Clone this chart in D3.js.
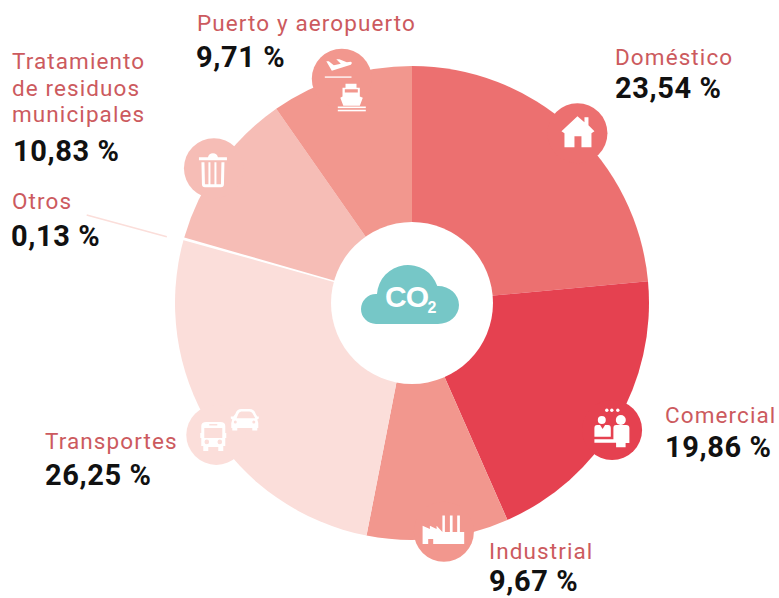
<!DOCTYPE html>
<html>
<head>
<meta charset="utf-8">
<script src="https://cdn.jsdelivr.net/npm/d3@7"></script>
<style>
    html, body { margin: 0; padding: 0; background: #fff; }
    svg { display: block; }
    text { font-family: Roboto, sans-serif; }
    .name { font-size: 22.5px; fill: #cc5a5e; letter-spacing: 1.1px; }
    .value { font-size: 29px; font-weight: 700; fill: #111; letter-spacing: 0.6px; }
</style>
</head>
<body>
<div id="chart"></div>
<script>
// Data, clockwise from the top
const categories = ['Doméstico', 'Comercial', 'Industrial', 'Transportes', 'Otros', 'Tratamiento de residuos municipales', 'Puerto y aeropuerto']
const shares = [23.54, 19.86, 9.67, 26.25, 0.13, 10.83, 9.71]
const valueLabels = ['23,54 %', '19,86 %', '9,67 %', '26,25 %', '0,13 %', '10,83 %', '9,71 %']

// Styling and layout
const colors = ['#ec7070', '#e54150', '#f2978e', '#fbdeda', '#ffffff', '#f6bdb6', '#f2978e']
const nameLines = [['Doméstico'], ['Comercial'], ['Industrial'], ['Transportes'], ['Otros'], ['Tratamiento', 'de residuos', 'municipales'], ['Puerto y aeropuerto']]
const nameX = [615, 665, 489, 45, 12, 12, 197]
const nameY = [65, 423, 559, 449, 209, 69, 31]
const valueX = [615, 665, 489, 45, 11, 13, 196]
const valueY = [98, 457, 591, 485, 246, 161, 67]
const bubbleShift = [1.9, 1.9, -1.6, -2.3, 0, -1.3, 0.1] // degrees from the slice middle
const bubbleDist = [237, 237, 231, 236, 0, 239.6, 235]

const width = 779, height = 598
const cx = 412, cy = 303, outerR = 237, innerR = 81, bubbleR = 30

const svg = d3.select('#chart').append('svg')
    .attr('width', width)
    .attr('height', height)

const g = svg.append('g').attr('transform', `translate(${cx}, ${cy})`)

const pie = d3.pie().sort(null).value(d => d)
const arcs = pie(shares)
const arc = d3.arc().innerRadius(0).outerRadius(outerR)

g.selectAll('.slice')
    .data(arcs)
    .join('path')
    .attr('class', 'slice')
    .attr('d', arc)
    .attr('fill', (d, i) => colors[i])
    .attr('stroke', (d, i) => i === 4 ? '#fff' : 'none')
    .attr('stroke-width', 1.6)

// Bubble that sits on the rim of each slice (Otros has none)
const bubblePos = (d, i) => {
    const a = (d.startAngle + d.endAngle) / 2 + bubbleShift[i] * Math.PI / 180
    return [Math.sin(a) * bubbleDist[i], -Math.cos(a) * bubbleDist[i]]
}

g.selectAll('.bubble')
    .data(arcs.filter((d, i) => bubbleDist[i] > 0))
    .join('circle')
    .attr('class', 'bubble')
    .attr('r', bubbleR)
    .attr('cx', d => bubblePos(d, d.index)[0])
    .attr('cy', d => bubblePos(d, d.index)[1])
    .attr('fill', d => colors[d.index])

// Hole
g.append('circle').attr('r', innerR).attr('fill', '#fff')

// Leader line for Otros
const otros = arcs[4]
const otrosAngle = (otros.startAngle + otros.endAngle) / 2 - 0.012
const leader = d3.scaleLinear().domain([0, 1]).range([254, 337])
g.append('line')
    .attr('x1', Math.sin(otrosAngle) * leader(0))
    .attr('y1', -Math.cos(otrosAngle) * leader(0))
    .attr('x2', Math.sin(otrosAngle) * leader(1))
    .attr('y2', -Math.cos(otrosAngle) * leader(1))
    .attr('stroke', '#fbdeda')
    .attr('stroke-width', 1.5)

// Cloud in the middle
const cloud = g.append('g')
cloud.append('path')
    .attr('fill', '#76c7c7')
    .attr('d', 'M-36,21 A15,15 0 0 1 -36,-9 L-35,-9 A31,31 0 0 1 25.3,-17 L26,-17 A21,19 0 0 1 26,21 Z')
cloud.append('text')
    .attr('x', -27)
    .attr('y', 3.5)
    .attr('fill', '#fff')
    .attr('font-size', 30)
    .attr('font-weight', 700)
    .attr('letter-spacing', -1)
    .style('font-family', '"Liberation Sans", sans-serif')
    .text('CO')
cloud.append('text')
    .attr('x', 15.5)
    .attr('y', 10)
    .attr('fill', '#fff')
    .attr('font-size', 16)
    .attr('font-weight', 700)
    .style('font-family', '"Liberation Sans", sans-serif')
    .text('2')

// White icons, drawn around each bubble's centre
const icons = [
    // house
    t => {
        t.append('path').attr('d', 'M0,-17 L7,-11 L7,-16 L11,-16 L11,-8 L17,-2 L14,0 L14,14 L4,14 L4,3 L-3,3 L-3,14 L-13,14 L-13,0 L-16,-2 Z')
    },
    // people at a desk
    t => {
        t.append('circle').attr('cx', -10.3).attr('cy', -10).attr('r', 4)
        t.append('circle').attr('cx', 8.7).attr('cy', -10).attr('r', 5)
        ;[-5.3, -0.3, 5.7].forEach(x => t.append('circle').attr('cx', x).attr('cy', -19.7).attr('r', 1.7))
        t.append('path').attr('d', 'M-17.7,-2 Q-17.7,-5 -15,-5 L-12,-5 L-9.5,-1 L-7,-5 L-4,-5 Q-1.3,-5 -1.3,-2 L-1.3,6.7 L-17.7,6.7 Z')
        t.append('path').attr('d', 'M1.3,-2 Q1.3,-5 4,-5 L14,-5 Q17.3,-5 17.3,-2 L17.3,13 L13.5,13 L13.5,17.3 L4,17.3 L4,12.7 L-17.7,12.7 L-17.7,9.3 L1.3,9.3 Z')
    },
    // factory
    t => {
        t.append('path').attr('d', 'M-21.3,12.3 L-21.3,-6 L-14,-2.7 L-14,-6 L-7.3,-2.7 L-7.3,-6 L-1.5,0.3 L-1.5,-16.3 L1,-16.3 L1,0.3 L6,0.3 L6,-16.3 L8.7,-16.3 L8.7,0.3 L13.3,0.3 L13.3,-16.3 L16,-16.3 L16,0.3 L20.3,0.3 L20.3,12.3 L-10.7,12.3 L-10.7,7.3 L-15.7,7.3 L-15.7,12.3 Z')
    },
    // bus and car
    t => {
        t.append('path').attr('fill-rule', 'evenodd').attr('d', 'M-15,-9 Q-15,-13 -10,-13 L4,-13 Q9,-13 9,-9 L9,-2 L10,-2 L10,3 L9,3 L9,11 L7,11 L7,16 L2,16 L2,12 L-8,12 L-8,16 L-13,16 L-13,11 L-15,11 L-15,3 L-16,3 L-16,-2 L-15,-2 Z M-12,-7 L-12,3 L6,3 L6,-7 Z M-7,-11 L-7,-9.5 L1,-9.5 L1,-11 Z M-11.8,7 a2.3,2.3 0 1 0 4.6,0 a2.3,2.3 0 1 0 -4.6,0 Z M1.2,7 a2.3,2.3 0 1 0 4.6,0 a2.3,2.3 0 1 0 -4.6,0 Z')
        t.append('path').attr('fill-rule', 'evenodd').attr('d', 'M19,-21 Q20.5,-26 25,-26 L33,-26 Q38,-26 39.5,-21 L41,-18.5 L42.5,-18.5 L42.5,-16.5 L41,-15.5 L42,-12 L42,-7 L41,-7 L41,-4.5 L36,-4.5 L36,-7 L21,-7 L21,-4.5 L16,-4.5 L16,-7 L15,-7 L15,-12 L16,-15.5 L14.5,-16.5 L14.5,-18.5 L17,-18.5 Z M22,-21 L20.3,-16.7 L39,-16.7 L36,-22 Q35,-23.5 33,-23.5 L25,-23.5 Q23,-23.5 22,-21 Z M17.5,-13 a1.5,1.5 0 1 0 3,0 a1.5,1.5 0 1 0 -3,0 Z M36,-13 a1.5,1.5 0 1 0 3,0 a1.5,1.5 0 1 0 -3,0 Z')
    },
    // bin
    t => {
        t.append('path').attr('d', 'M-15,-11 L-6,-11 Q-5,-15 -1,-15 Q3,-15 4,-11 L13,-11 L13,-8 L-15,-8 Z')
        t.append('path').attr('fill-rule', 'evenodd').attr('d', 'M-12.5,-6 L10.5,-6 L10,16 Q10,19 7,19 L-9,19 Q-12,19 -12,16 Z M-9.5,-6 L-9,16 L-5.5,16 L-5.5,-6 Z M-3.5,-6 L-3.5,16 L0.5,16 L0.5,-6 Z M2.5,-6 L2.5,16 L7,16 L7.5,-6 Z')
    },
    // plane and ship
    t => {
        t.append('path').attr('d', 'M-15.5,-17.5 L-13,-17.5 L-8,-13.5 L-1,-15 L-5.5,-19.5 L-2.5,-19.5 L5,-16.5 L9,-17 Q11,-16 9,-14 L-10,-8 Z')
        t.append('rect').attr('x', -17).attr('y', -2.3).attr('width', 26.7).attr('height', 1.3)
        t.append('path').attr('fill-rule', 'evenodd').attr('d', 'M3.7,5 L14.7,5 L14.7,9 L18,9 L18,17.7 L21,19 L18,27 L1.5,27 L-1.5,19 L0.7,17.7 L0.7,9 L3.7,9 Z M3,10.5 L3,13.7 L16,13.7 L16,10.5 Z')
        t.append('rect').attr('x', -4).attr('y', 27.8).attr('width', 28).attr('height', 1.6)
        t.append('rect').attr('x', -4).attr('y', 31).attr('width', 28).attr('height', 1.6)
    }
]
const iconSlices = arcs.filter((d, i) => bubbleDist[i] > 0)
iconSlices.forEach((d, k) => {
    const p = bubblePos(d, d.index)
    const t = g.append('g')
        .attr('fill', '#fff')
        .attr('transform', `translate(${p[0]}, ${p[1]})`)
    icons[k](t)
})

// Labels
categories.forEach((c, i) => {
    svg.append('text')
        .attr('class', 'name')
        .selectAll('tspan')
        .data(nameLines[i])
        .join('tspan')
        .attr('x', nameX[i])
        .attr('y', (d, k) => nameY[i] + k * 26.5)
        .text(d => d)

    svg.append('text')
        .attr('class', 'value')
        .attr('x', valueX[i])
        .attr('y', valueY[i])
        .text(valueLabels[i])
})
</script>
</body>
</html>
